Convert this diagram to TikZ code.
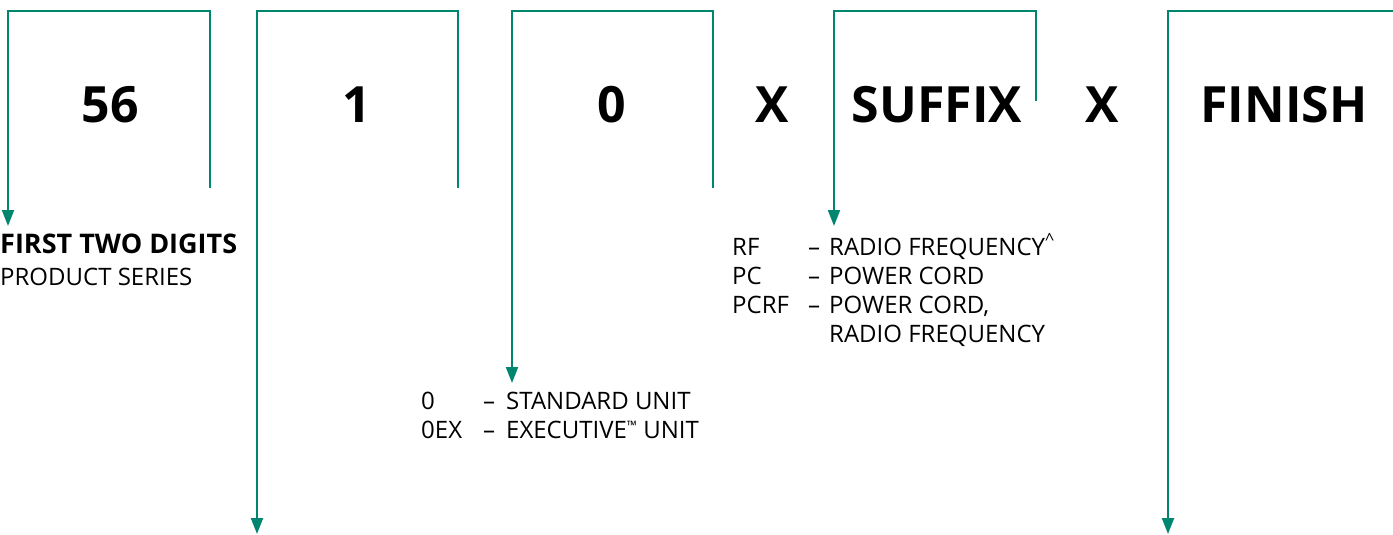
\documentclass[tikz,border=0pt]{standalone}
\usepackage{fontspec}
\setmainfont{Open Sans}
\usetikzlibrary{arrows.meta}
\definecolor{codegreen}{RGB}{0,133,111}

\begin{document}
\begin{tikzpicture}[x=1pt,y=-1pt,
  bracket/.style={codegreen,line width=2pt,-{Triangle[length=16pt,width=12pt]}},
  code/.style={font=\bfseries\fontsize{50}{60}\selectfont,anchor=base,inner sep=0pt},
  info/.style={font=\fontsize{24}{29}\selectfont,anchor=base west,inner sep=0pt}]
\useasboundingbox (0,0) rectangle (1393,535);
% model number parts
\node[code] (series) at (110,122) {56};
\node[code] (one) at (357,122) {1};
\node[code] (zero) at (612,122) {0};
\node[code] (xa) at (772,122) {X};
\node[code] (suffix) at (937,122) {SUFFIX};
\node[code] (xb) at (1102,122) {X};
\node[code] (finish) at (1284,122) {FINISH};
% explanations
\node[info] (series text) at (0,253) {\begin{tabular}[t]{@{}l@{}}
{\fontsize{27}{29}\selectfont\bfseries FIRST TWO DIGITS}\\[3pt]
PRODUCT SERIES
\end{tabular}};
\node[info] (unit list) at (421,409) {\begin{tabular}[t]{@{}p{62pt}@{}p{23pt}@{}l@{}}
0 & – & STANDARD UNIT\\
0EX & – & EXECUTIVE\raisebox{7.5pt}{\fontsize{13}{13}\selectfont ™} UNIT
\end{tabular}};
\node[info] (suffix list) at (732,255) {\begin{tabular}[t]{@{}p{76pt}@{}p{21pt}@{}l@{}}
RF & – & RADIO FREQUENCY\textsuperscript{\textasciicircum}\\
PC & – & POWER CORD\\
PCRF & – & POWER CORD,\\
 & & RADIO FREQUENCY
\end{tabular}};
% brackets with arrows
\coordinate (top) at (0,11);
\foreach \name/\rx/\ry/\lx/\ly in {a/210/188/8/226, b/458/188/257/534,
    c/713/188/512/383, d/1036/101/834/226, e/1393/11/1168/534} {
  \coordinate (\name start) at (\rx,\ry);
  \coordinate (\name end) at (\lx,\ly);
  \draw[bracket] (\name start) -- (\name start |- top) -| (\name end);
}
\end{tikzpicture}
\end{document}
